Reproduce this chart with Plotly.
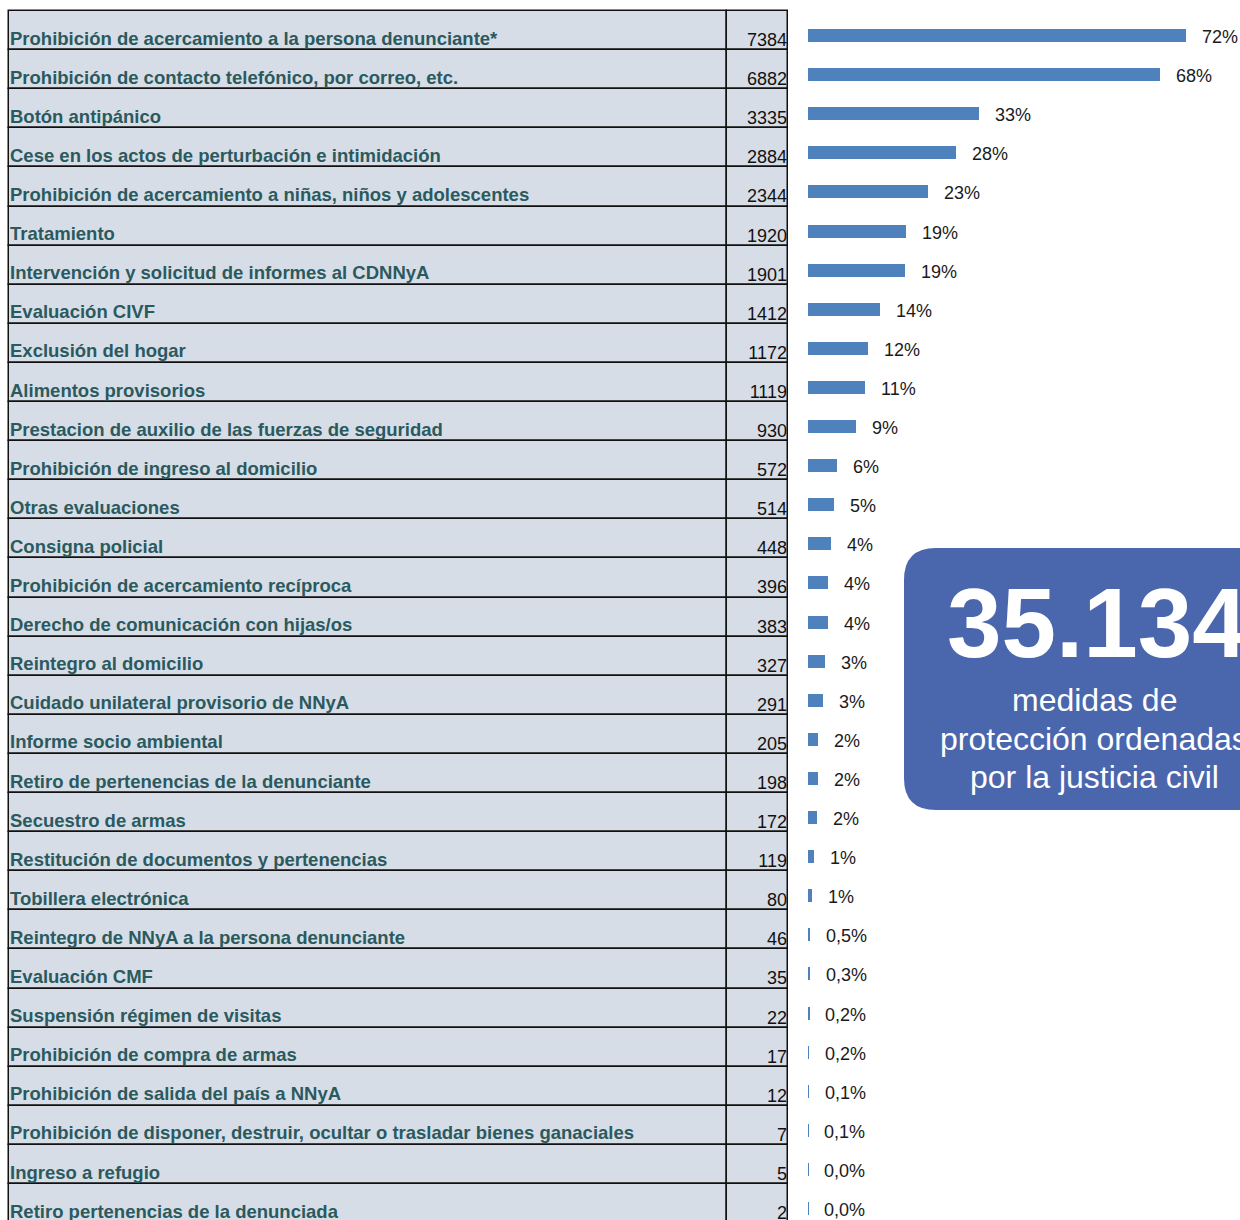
import plotly.graph_objects as go

categories = [
    "Prohibición de acercamiento a la persona denunciante*",
    "Prohibición de contacto telefónico, por correo, etc.",
    "Botón antipánico",
    "Cese en los actos de perturbación e intimidación",
    "Prohibición de acercamiento a niñas, niños y adolescentes",
    "Tratamiento",
    "Intervención y solicitud de informes al CDNNyA",
    "Evaluación CIVF",
    "Exclusión del hogar",
    "Alimentos provisorios",
    "Prestacion de auxilio de las fuerzas de seguridad",
    "Prohibición de ingreso al domicilio",
    "Otras evaluaciones",
    "Consigna policial",
    "Prohibición de acercamiento recíproca",
    "Derecho de comunicación con hijas/os",
    "Reintegro al domicilio",
    "Cuidado unilateral provisorio de NNyA",
    "Informe socio ambiental",
    "Retiro de pertenencias de la denunciante",
    "Secuestro de armas",
    "Restitución de documentos y pertenencias",
    "Tobillera electrónica",
    "Reintegro de NNyA a la persona denunciante",
    "Evaluación CMF",
    "Suspensión régimen de visitas",
    "Prohibición de compra de armas",
    "Prohibición de salida del país a NNyA",
    "Prohibición de disponer, destruir, ocultar o trasladar bienes ganaciales",
    "Ingreso a refugio",
    "Retiro pertenencias de la denunciada",
]
values = [7384, 6882, 3335, 2884, 2344, 1920, 1901, 1412, 1172, 1119, 930, 572, 514,
          448, 396, 383, 327, 291, 205, 198, 172, 119, 80, 46, 35, 22, 17, 12, 7, 5, 2]
pct_labels = ["72%", "68%", "33%", "28%", "23%", "19%", "19%", "14%", "12%", "11%", "9%",
              "6%", "5%", "4%", "4%", "4%", "3%", "3%", "2%", "2%", "2%", "1%", "1%",
              "0,5%", "0,3%", "0,2%", "0,2%", "0,1%", "0,1%", "0,0%", "0,0%"]
total_label = "35.134"
total_caption = ["medidas de", "protección ordenadas", "por la justicia civil"]

W, H = 1240, 1220
TOP = 11.0
ROW = 39.1
n = len(categories)
rows = list(range(n))

# table geometry (pixel units on xaxis2)
X_LEFT, X_DIV, X_RIGHT = 9, 727, 788
CELL_FILL = "#D7DDE7"
LABEL_COLOR = "#2A5A5E"

# bar scale: px per unit
BAR_X0 = 808
PX_PER = 378 / 7384
x_range = [-BAR_X0 / PX_PER, (W - BAR_X0) / PX_PER]

fig = go.Figure()

# table cells
for base, width in [(X_LEFT, X_DIV - X_LEFT), (X_DIV, X_RIGHT - X_DIV)]:
    fig.add_trace(go.Bar(
        y=[r + 0.5 for r in rows], x=[width] * n, base=base,
        orientation="h", width=1, xaxis="x2", yaxis="y",
        marker=dict(color=CELL_FILL, line=dict(color="#111111", width=1.5)),
        hoverinfo="skip", showlegend=False,
    ))
# label text
fig.add_trace(go.Scatter(
    x=[X_LEFT + 1] * n, y=[r + (40 - TOP) / ROW for r in rows], mode="text",
    text=categories, textposition="middle right", xaxis="x2", yaxis="y",
    textfont=dict(family="Liberation Sans, Arial", size=18.5, color=LABEL_COLOR, weight="bold"),
    hoverinfo="skip", showlegend=False,
))
# number text
fig.add_trace(go.Scatter(
    x=[X_RIGHT - 1] * n, y=[r + (41.5 - TOP) / ROW for r in rows], mode="text",
    text=[str(v) for v in values], textposition="middle left", xaxis="x2", yaxis="y",
    textfont=dict(family="Liberation Sans, Arial", size=18, color="#111111"),
    hoverinfo="skip", showlegend=False,
))
# bars
bar_off = (35.5 - TOP) / ROW
fig.add_trace(go.Bar(
    y=[r + bar_off for r in rows], x=values, orientation="h", width=13 / ROW,
    marker=dict(color="#4F81BD", line=dict(width=0)),
    xaxis="x", yaxis="y", hoverinfo="skip", showlegend=False,
))

annotations = []
for r, v, t in zip(rows, values, pct_labels):
    annotations.append(dict(
        x=v, y=r + (37 - TOP) / ROW, xref="x", yref="y", text=t, showarrow=False,
        xanchor="left", yanchor="middle", xshift=14,
        font=dict(family="Liberation Sans, Arial", size=18, color="#1a1a1a"),
    ))

# rounded info box
bx0, bx1, by0, by1, rad = 904, 1300, 548, 810, 32
def px(x): return x / W
def py(y): return 1 - y / H
path = (f"M {px(bx0 + rad)},{py(by0)} L {px(bx1)},{py(by0)} L {px(bx1)},{py(by1)} "
        f"L {px(bx0 + rad)},{py(by1)} Q {px(bx0)},{py(by1)} {px(bx0)},{py(by1 - rad)} "
        f"L {px(bx0)},{py(by0 + rad)} Q {px(bx0)},{py(by0)} {px(bx0 + rad)},{py(by0)} Z")
shapes = [dict(type="path", xref="paper", yref="paper", path=path,
               fillcolor="#4A66AD", line=dict(width=0), layer="above")]

annotations.append(dict(
    x=px(1097), y=py(623), xref="paper", yref="paper", text=f"<b>{total_label}</b>",
    showarrow=False, xanchor="center", yanchor="middle",
    font=dict(family="Liberation Sans, Arial", size=98, color="white"),
))
for line, yc in zip(total_caption, [700, 738.5, 777]):
    annotations.append(dict(
        x=px(1094), y=py(yc), xref="paper", yref="paper", text=line,
        showarrow=False, xanchor="center", yanchor="middle", align="center",
        font=dict(family="Liberation Sans, Arial", size=32, color="white"),
    ))

fig.update_layout(
    width=W, height=H, margin=dict(l=0, r=0, t=0, b=0),
    paper_bgcolor="white", plot_bgcolor="white",
    barmode="overlay", bargap=0,
    xaxis=dict(domain=[0, 1], range=x_range, visible=False, fixedrange=True),
    xaxis2=dict(domain=[0, 1], range=[0, W], visible=False, overlaying="x", fixedrange=True),
    yaxis=dict(range=[(H - TOP) / ROW, -TOP / ROW], visible=False, fixedrange=True),
    shapes=shapes, annotations=annotations,
)

fig.write_html("out.html", config={"displayModeBar": False},
               post_script="document.body.style.margin='0px';document.body.style.overflow='hidden';")
